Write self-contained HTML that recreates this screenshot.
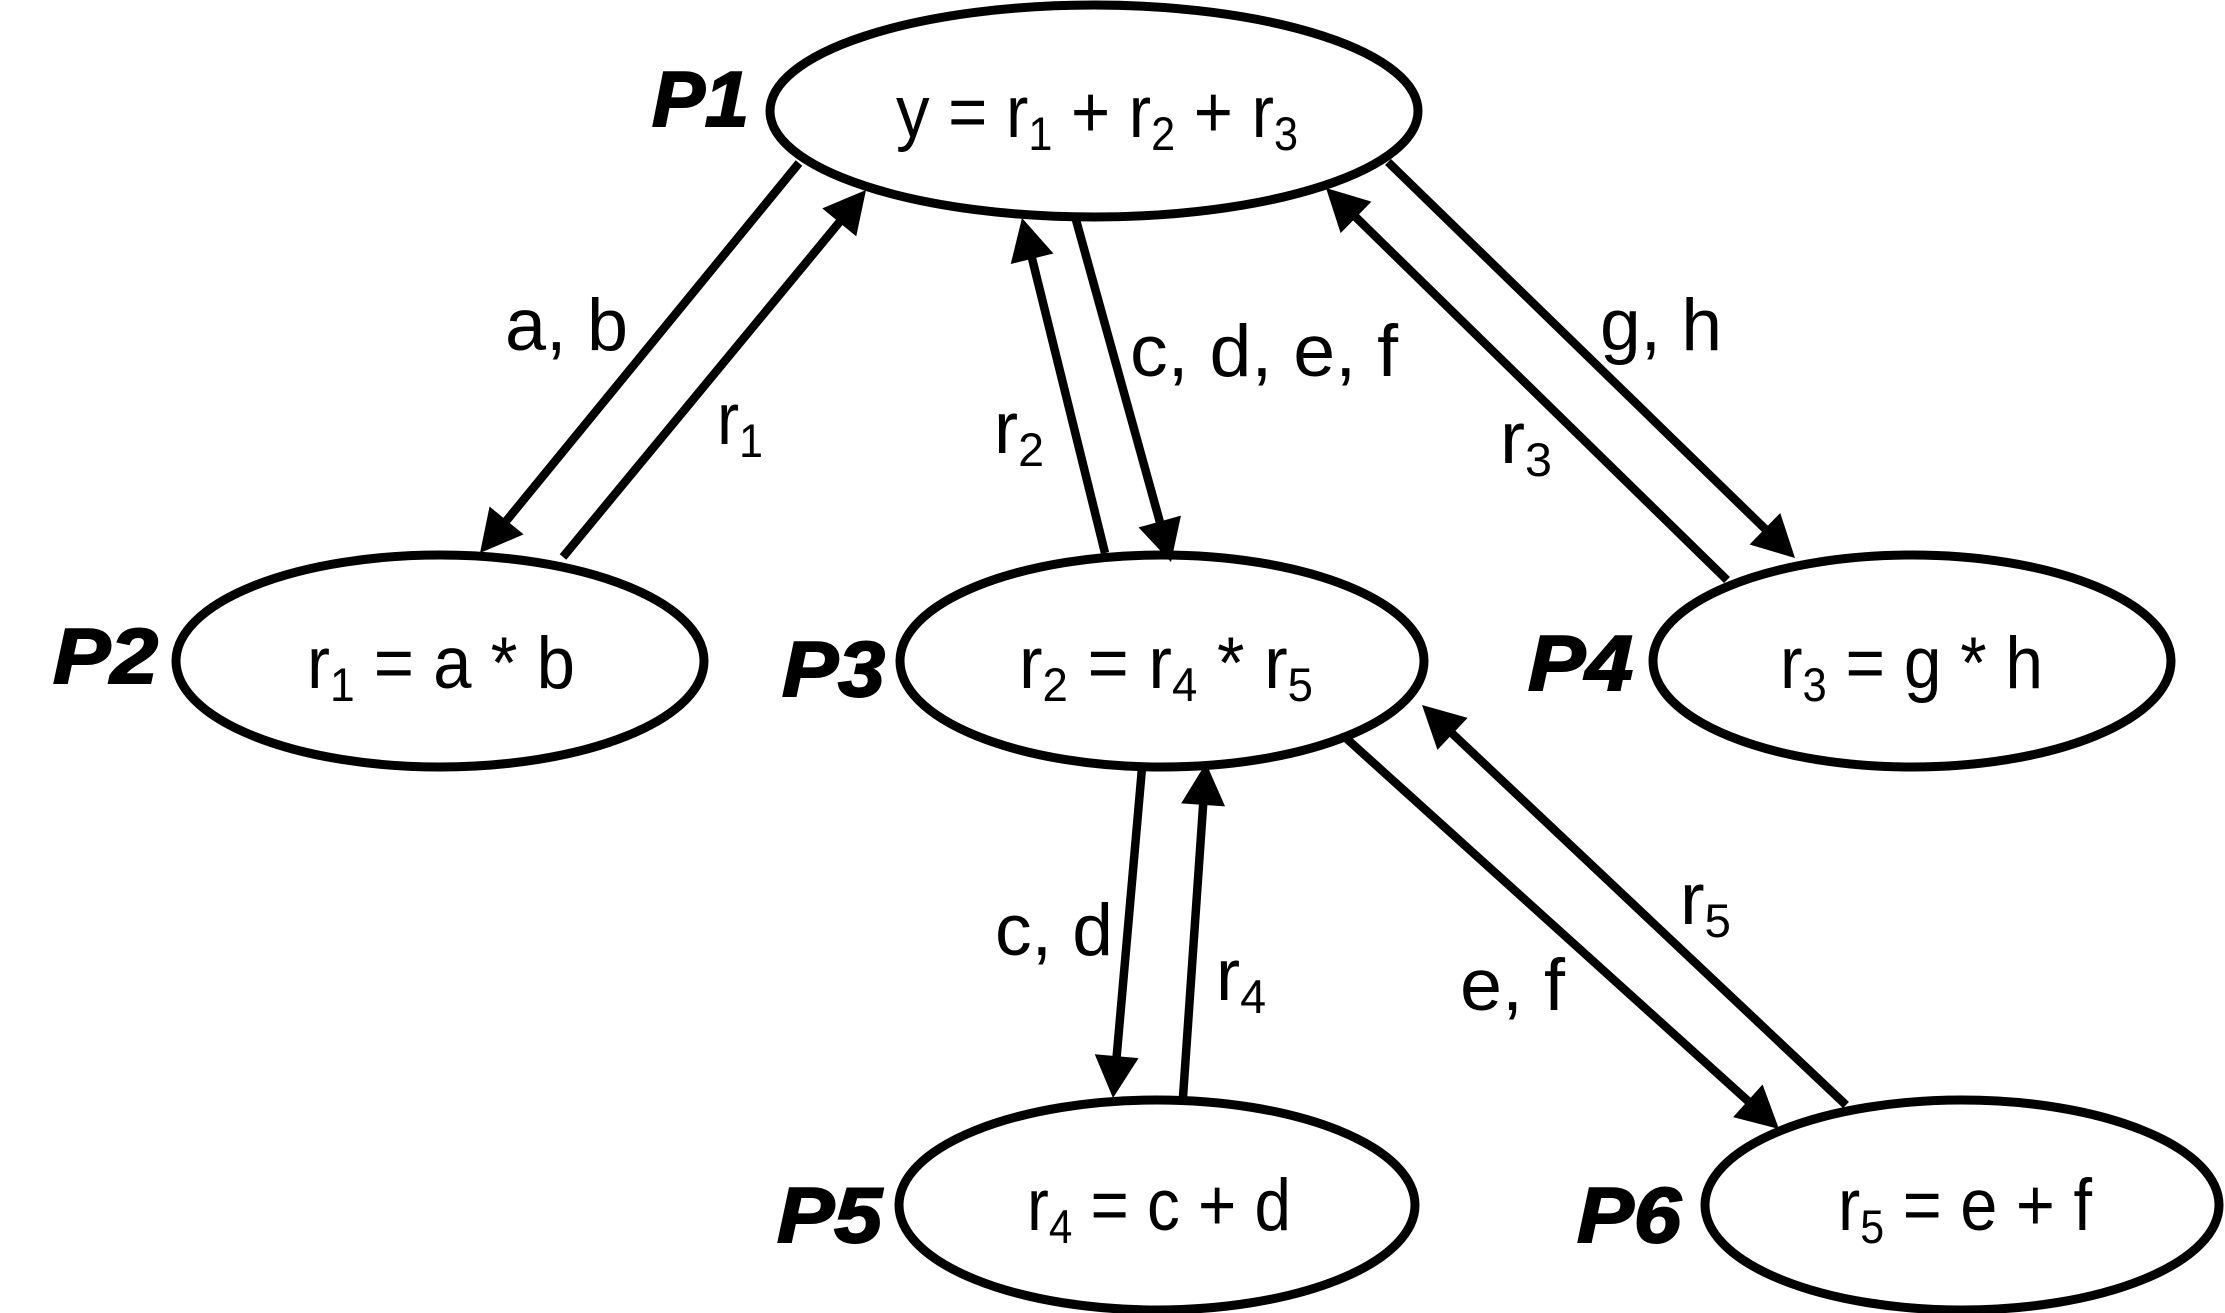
<!DOCTYPE html>
<html>
<head>
<meta charset="utf-8">
<title>Process dependency diagram</title>
<style>
html,body{margin:0;padding:0;background:#fff;}
svg{display:block;}
text{font-family:"Liberation Sans",sans-serif;fill:#000;}
.eq{font-size:73px;}
.sub{font-size:47px;}
.lbl{font-size:73px;}
.proc{font-size:78px;font-weight:bold;font-style:italic;stroke:#000;stroke-width:2px;}
ellipse{fill:#fff;stroke:#000;stroke-width:9;}
</style>
</head>
<body>
<svg id="diagram" xmlns="http://www.w3.org/2000/svg" width="2225" height="1313" viewBox="0 0 2225 1313">
  <rect x="0" y="0" width="2225" height="1313" fill="#fff"/>

  <ellipse cx="1094" cy="111" rx="324" ry="106"/>
  <ellipse cx="440" cy="661" rx="264" ry="106"/>
  <ellipse cx="1162" cy="661" rx="262" ry="106"/>
  <ellipse cx="1912" cy="661" rx="259" ry="106"/>
  <ellipse cx="1157" cy="1205" rx="258" ry="105"/>
  <ellipse cx="1962" cy="1205" rx="257" ry="105"/>

  <g id="arrows"></g>

  <text class="proc" x="652" y="126" textLength="97" lengthAdjust="spacingAndGlyphs">P1</text>
  <text class="proc" x="53" y="683" textLength="105" lengthAdjust="spacingAndGlyphs">P2</text>
  <text class="proc" x="782" y="696" textLength="103" lengthAdjust="spacingAndGlyphs">P3</text>
  <text class="proc" x="1528" y="690" textLength="105" lengthAdjust="spacingAndGlyphs">P4</text>
  <text class="proc" x="777" y="1242" textLength="105" lengthAdjust="spacingAndGlyphs">P5</text>
  <text class="proc" x="1577" y="1242" textLength="104" lengthAdjust="spacingAndGlyphs">P6</text>

  <text class="eq" x="896" y="137" textLength="402" lengthAdjust="spacingAndGlyphs">y = r<tspan class="sub" dy="13">1</tspan><tspan dy="-13"> + r</tspan><tspan class="sub" dy="13">2</tspan><tspan dy="-13"> + r</tspan><tspan class="sub" dy="13">3</tspan></text>
  <text class="eq" x="307" y="688" textLength="268" lengthAdjust="spacingAndGlyphs">r<tspan class="sub" dy="13">1</tspan><tspan dy="-13"> = a * b</tspan></text>
  <text class="eq" x="1019" y="688" textLength="294" lengthAdjust="spacingAndGlyphs">r<tspan class="sub" dy="13">2</tspan><tspan dy="-13"> = r</tspan><tspan class="sub" dy="13">4</tspan><tspan dy="-13"> * r</tspan><tspan class="sub" dy="13">5</tspan></text>
  <text class="eq" x="1780" y="688" textLength="263" lengthAdjust="spacingAndGlyphs">r<tspan class="sub" dy="13">3</tspan><tspan dy="-13"> = g * h</tspan></text>
  <text class="eq" x="1027" y="1230" textLength="264" lengthAdjust="spacingAndGlyphs">r<tspan class="sub" dy="13">4</tspan><tspan dy="-13"> = c + d</tspan></text>
  <text class="eq" x="1838" y="1230" textLength="254" lengthAdjust="spacingAndGlyphs">r<tspan class="sub" dy="13">5</tspan><tspan dy="-13"> = e + f</tspan></text>

  <text class="lbl" x="505" y="350" textLength="123" lengthAdjust="spacingAndGlyphs">a, b</text>
  <text class="lbl" x="1130" y="376" textLength="268" lengthAdjust="spacingAndGlyphs">c, d, e, f</text>
  <text class="lbl" x="1600" y="350" textLength="122" lengthAdjust="spacingAndGlyphs">g, h</text>
  <text class="lbl" x="995" y="955" textLength="118" lengthAdjust="spacingAndGlyphs">c, d</text>
  <text class="lbl" x="1460" y="1010" textLength="105" lengthAdjust="spacingAndGlyphs">e, f</text>

  <text class="eq" x="717" y="444" textLength="46" lengthAdjust="spacingAndGlyphs">r<tspan class="sub" dy="13">1</tspan></text>
  <text class="eq" x="994" y="453" textLength="50" lengthAdjust="spacingAndGlyphs">r<tspan class="sub" dy="13">2</tspan></text>
  <text class="eq" x="1500" y="463" textLength="52" lengthAdjust="spacingAndGlyphs">r<tspan class="sub" dy="13">3</tspan></text>
  <text class="eq" x="1216" y="1000" textLength="50" lengthAdjust="spacingAndGlyphs">r<tspan class="sub" dy="13">4</tspan></text>
  <text class="eq" x="1680" y="924" textLength="51" lengthAdjust="spacingAndGlyphs">r<tspan class="sub" dy="13">5</tspan></text>
</svg>
<script>
var NS = 'http://www.w3.org/2000/svg';
var arrowNames = ['arrow-a-b','arrow-r1','arrow-r2','arrow-c-d-e-f','arrow-g-h','arrow-r3','arrow-c-d','arrow-r4','arrow-e-f','arrow-r5'];
var arrowStartX = [799,563,1105,1076,1388,1727,1142,1183,1347,1846];
var arrowStartY = [163,557,553,220,162,580,768,1097,739,1105];
var arrowTipX = [480,866,1022,1171,1795,1326,1113,1206,1779,1422];
var arrowTipY = [553,190,218,562,558,188,1098,763,1129,705];
var HEAD_LEN = 42, HEAD_HALF = 22, LINE_W = 8.5;
var layer = document.getElementById('arrows');
arrowNames.forEach(function (name, i) {
  var x1 = arrowStartX[i], y1 = arrowStartY[i], x2 = arrowTipX[i], y2 = arrowTipY[i];
  var dx = x2 - x1, dy = y2 - y1, len = Math.sqrt(dx * dx + dy * dy);
  var ux = dx / len, uy = dy / len;
  var bx = x2 - ux * HEAD_LEN, by = y2 - uy * HEAD_LEN;
  var line = document.createElementNS(NS, 'line');
  
  
  line.setAttribute('x1', x1);
  line.setAttribute('y1', y1);
  line.setAttribute('x2', bx + ux * 2);
  line.setAttribute('y2', by + uy * 2);
  line.setAttribute('stroke', '#000');
  line.setAttribute('stroke-width', LINE_W);
  layer.appendChild(line);
  var head = document.createElementNS(NS, 'polygon');
  
  
  head.setAttribute('points', x2 + ',' + y2 + ' ' + (bx - uy * HEAD_HALF) + ',' + (by + ux * HEAD_HALF) + ' ' + (bx + uy * HEAD_HALF) + ',' + (by - ux * HEAD_HALF));
  head.setAttribute('fill', '#000');
  layer.appendChild(head);
});
</script>
</body>
</html>
